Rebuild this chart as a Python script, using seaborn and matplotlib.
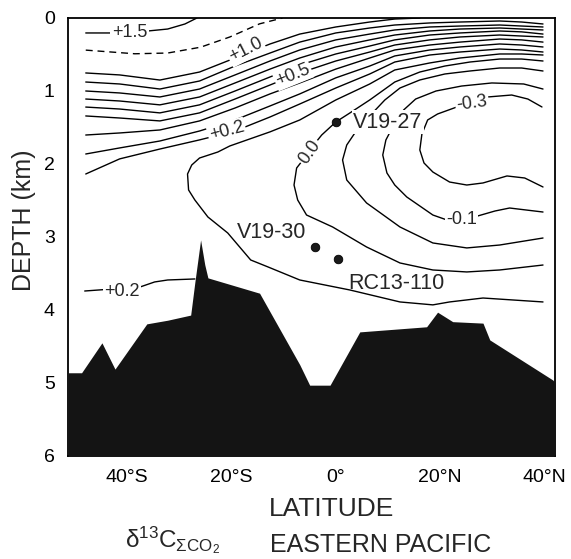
import matplotlib
matplotlib.use("Agg")
import matplotlib.pyplot as plt
import seaborn as sns

# ---------------- data (latitude in degrees, depth in km) ----------------
# isolines of delta13C of total CO2, read from the section
p15_lat = [-47.9, -43.3, -39.5, -36.0, -32.2, -28.9, -26.6]
p15_dep = [0.205, 0.205, 0.205, 0.178, 0.151, 0.082, 0.0]

p125_lat = [-47.9, -38.5, -32.2, -25.9, -20.3, -14.6, -10.2]
p125_dep = [0.44, 0.49, 0.48, 0.40, 0.26, 0.08, 0.0]

p10_lat = [-47.9, -41.4, -33.7, -26.1, -19.3, -12.6, -6.9, 0.0, 6.5, 11.3, 16.1]
p10_dep = [0.753, 0.78, 0.85, 0.74, 0.548, 0.356, 0.22, 0.123, 0.055, 0.014, 0.0]

band_lat = [-47.9, -41.4, -33.7, -26.1, -19.3, -12.6, -6.9, 0.0, 6.5, 11.3, 18.0, 23.8, 31.4, 35.6, 39.7]
p09_dep = [0.877, 0.904, 0.973, 0.863, 0.658, 0.48, 0.33, 0.205, 0.137, 0.096, 0.068, 0.055, 0.041, 0.055, 0.082]
p08_dep = [1.0, 1.027, 1.082, 0.973, 0.78, 0.589, 0.438, 0.30, 0.22, 0.164, 0.123, 0.11, 0.096, 0.11, 0.123]
p07_dep = [1.11, 1.137, 1.19, 1.082, 0.89, 0.70, 0.548, 0.397, 0.30, 0.233, 0.178, 0.151, 0.137, 0.151, 0.164]
p06_dep = [1.22, 1.247, 1.30, 1.19, 1.0, 0.808, 0.644, 0.493, 0.384, 0.30, 0.233, 0.205, 0.178, 0.19, 0.22]
p05_dep = [1.342, 1.37, 1.41, 1.30, 1.11, 0.918, 0.753, 0.589, 0.466, 0.37, 0.30, 0.26, 0.233, 0.247, 0.26]
p04_dep = [1.603, 1.575, 1.534, 1.41, 1.233, 1.04, 0.89, 0.70, 0.548, 0.438, 0.37, 0.33, 0.288, 0.30, 0.33]
p03_dep = [1.863, 1.78, 1.685, 1.548, 1.397, 1.205, 1.04, 0.82, 0.658, 0.52, 0.438, 0.397, 0.356, 0.37, 0.397]
p02_dep = [2.137, 1.93, 1.795, 1.67, 1.548, 1.356, 1.178, 0.959, 0.767, 0.603, 0.507, 0.466, 0.425, 0.438, 0.466]

p01_lat = [39.7, 28.2, 21.8, 18.6, 12.3, 2.7, -6.9, -13.0, -16.3, -20.7, -24.5, -27.0, -28.2, -28.4,
           -27.6, -26.1, -22.6, -20.3, -12.6, -6.9, 0.0, 6.5, 11.3, 18.0, 23.8, 31.4, 35.6, 39.7]
p01_dep = [3.89, 3.836, 3.89, 3.93, 3.89, 3.726, 3.589, 3.41, 3.315, 2.945, 2.726, 2.493, 2.356, 2.137,
           2.014, 1.918, 1.836, 1.753, 1.56, 1.397, 1.123, 0.904, 0.712, 0.616, 0.548, 0.493, 0.493, 0.507]

z00_lat = [39.7, 31.4, 25.1, 18.6, 12.3, 5.9, -0.6, -5.6, -7.3, -8.0, -7.5, -6.3, -5.0, -2.7, 0.0,
           2.7, 6.5, 11.3, 16.1, 20.9, 25.7, 31.4, 35.6, 39.7]
z00_dep = [3.384, 3.452, 3.479, 3.452, 3.356, 3.137, 2.863, 2.699, 2.493, 2.288, 2.055, 1.945, 1.808,
           1.603, 1.425, 1.301, 1.123, 0.877, 0.74, 0.658, 0.603, 0.562, 0.562, 0.589]

m005_lat = [39.7, 31.4, 25.1, 18.6, 12.3, 5.9, 2.1, 1.3, 2.1, 3.8, 6.5, 9.4, 12.3, 16.1, 20.9, 25.7, 31.4, 35.6, 39.7]
m005_dep = [3.014, 3.11, 3.15, 3.082, 2.863, 2.534, 2.219, 1.945, 1.74, 1.56, 1.342, 1.123, 0.959, 0.849,
            0.767, 0.726, 0.685, 0.685, 0.726]

m01_lat = [39.7, 33.3, 30.5, 27.2, 24.1, 21.3, 18.6, 13.6, 11.3, 9.8, 9.0, 9.6, 11.1, 13.0, 15.3, 19.2,
           24.1, 29.9, 36.0, 39.7]
m01_dep = [2.658, 2.603, 2.644, 2.712, 2.767, 2.767, 2.699, 2.452, 2.288, 2.123, 1.877, 1.671, 1.466,
           1.26, 1.11, 1.0, 0.932, 0.89, 0.904, 0.973]

m03_lat = [39.7, 36.2, 32.8, 28.2, 25.1, 21.8, 18.6, 16.9, 16.1, 16.5, 17.6, 19.5, 23.2, 26.1, 29.1,
           33.7, 36.8, 39.5]
m03_dep = [2.315, 2.192, 2.164, 2.26, 2.288, 2.247, 2.11, 1.986, 1.808, 1.589, 1.397, 1.315, 1.219,
           1.164, 1.082, 1.055, 1.11, 1.219]

deep02_lat = [-48.1, -37.5, -34.7, -32.2, -27.0]
deep02_dep = [3.74, 3.685, 3.616, 3.589, 3.575]

# contour labels: text, latitude, depth, rotation
label_text = ["+1.5", "+1.0", "+0.5", "+0.2", "0.0", "-0.3", "-0.1", "+0.2"]
label_lat = [-39.5, -17.2, -8.2, -20.9, -5.0, 26.1, 24.1, -41.0]
label_dep = [0.205, 0.44, 0.78, 1.55, 1.836, 1.164, 2.767, 3.74]
label_rot = [0, 27, 22, 15, 55, 8, 0, 0]

# bottom topography
topo_lat = [-51.3, -48.7, -44.8, -42.3, -36.2, -32.2, -27.8, -27.0, -25.9, -25.1, -24.5, -14.6, -6.9,
            -5.0, -1.1, 4.6, 17.4, 19.5, 22.4, 28.2, 29.5, 41.6, 42.0]
topo_dep = [4.86, 4.86, 4.45, 4.81, 4.19, 4.14, 4.07, 3.62, 3.04, 3.38, 3.56, 3.77, 4.75, 5.03, 5.03,
            4.30, 4.23, 4.03, 4.16, 4.18, 4.41, 4.96, 5.0]

# core sites
core_names = ["V19-27", "V19-30", "RC13-110"]
core_lat = [0.0, -3.9, 0.4]
core_dep = [1.425, 3.14, 3.30]
core_label_lat = [10.0, -12.3, 11.7]
core_label_dep = [1.425, 2.945, 3.644]

xticks = [-40, -20, 0, 20, 40]
xticklabels = ["40°S", "20°S", "0°", "20°N", "40°N"]
yticks = [0, 1, 2, 3, 4, 5, 6]

# ---------------- drawing ----------------
sns.set_style("white")
plt.rcParams["font.family"] = ["Liberation Sans", "DejaVu Sans"]
plt.rcParams["mathtext.fontset"] = "custom"
plt.rcParams["mathtext.rm"] = "Liberation Sans"
plt.rcParams["mathtext.it"] = "Liberation Sans:italic"
plt.rcParams["mathtext.sf"] = "Liberation Sans"

fig = plt.figure(figsize=(5.71, 5.59), dpi=100)
ax = fig.add_axes([0.1191, 0.1843, 0.8529, 0.7835])


def iso(lat, dep, **kw):
    sns.lineplot(x=lat, y=dep, sort=False, estimator=None, color="black",
                 lw=1.0, legend=False, ax=ax, zorder=2, **kw)


iso(p15_lat, p15_dep)
iso(p125_lat, p125_dep, linestyle=(0, (5, 3.5)))
iso(p10_lat, p10_dep)
for dep in [p09_dep, p08_dep, p07_dep, p06_dep, p05_dep, p04_dep, p03_dep, p02_dep]:
    iso(band_lat, dep)
iso(p01_lat, p01_dep)
iso(z00_lat, z00_dep)
iso(m005_lat, m005_dep)
iso(m01_lat, m01_dep)
iso(m03_lat, m03_dep)
iso(deep02_lat, deep02_dep)

box = dict(boxstyle="square,pad=0.08", fc="white", ec="none")
for t, la, de, r in zip(label_text, label_lat, label_dep, label_rot):
    ax.text(la, de, t, fontsize=13, ha="center", va="center", rotation=r,
            rotation_mode="anchor", bbox=box, zorder=3)

ax.fill_between(topo_lat, topo_dep, 6, color="#141414", lw=0, zorder=4)

sns.scatterplot(x=core_lat, y=core_dep, color="#1a1a1a", s=38, edgecolor="black",
                linewidth=0.6, legend=False, ax=ax, zorder=5)
for name, la, de in zip(core_names, core_label_lat, core_label_dep):
    ax.text(la, de, name, fontsize=15.5, ha="center", va="center", zorder=5,
            bbox=box if name == "V19-27" else None)

ax.set_xlim(-51.3, 42.0)
ax.set_ylim(6, 0)
ax.set_xticks(xticks)
ax.set_xticklabels(xticklabels)
ax.set_yticks(yticks)
ax.tick_params(axis="both", direction="inout", length=7, width=1.0, labelsize=14,
               color="black", labelcolor="black")
ax.tick_params(axis="x", pad=6)
ax.tick_params(axis="y", pad=6)
for s in ax.spines.values():
    s.set_color("black")
    s.set_linewidth(1.3)
    s.set_visible(True)

ax.set_xlabel("LATITUDE", fontsize=19, va="center")
ax.xaxis.set_label_coords(0.542, -0.121)
ax.set_ylabel("DEPTH (km)", fontsize=18, va="center")
ax.yaxis.set_label_coords(-0.09, 0.539)

fig.text(173 / 571, 1 - 540 / 559, r"$\mathrm{\delta^{13}C_{\Sigma CO_2}}$", fontsize=17.5,
         ha="center", va="center")
fig.text(270 / 571, 1 - 545 / 559, "EASTERN PACIFIC", fontsize=18, ha="left", va="center")

fig.savefig("out.png", dpi=100)
